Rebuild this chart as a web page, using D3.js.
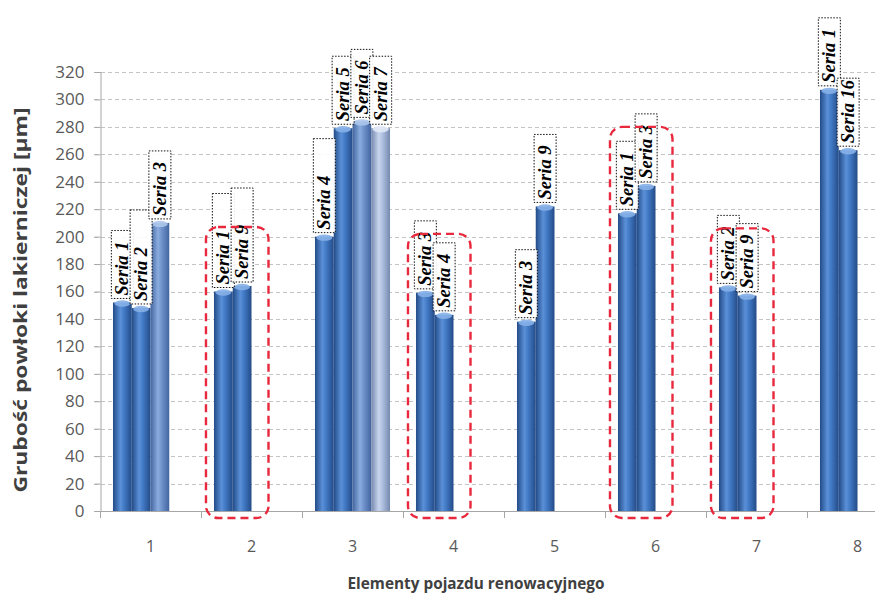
<!DOCTYPE html>
<html>
<head>
<meta charset="utf-8">
<script src="https://cdn.jsdelivr.net/npm/d3@7/dist/d3.min.js"></script>
<style>
  html, body { margin: 0; padding: 0; background: #fff; }
  svg { display: block; }
</style>
</head>
<body>
<svg id="chart" width="875" height="599"></svg>
<script>
// ---- data ----
const categories = ["1", "2", "3", "4", "5", "6", "7", "8"];
const groupValues = [
  [152, 148, 210],
  [160, 164],
  [200, 279, 284, 279],
  [159, 143],
  [138, 222],
  [217, 237],
  [163, 157],
  [307, 263]
];
const groupLabels = [
  ["Seria 1", "Seria 2", "Seria 3"],
  ["Seria 1", "Seria 9"],
  ["Seria 4", "Seria 5", "Seria 6", "Seria 7"],
  ["Seria 3", "Seria 4"],
  ["Seria 3", "Seria 9"],
  ["Seria 1", "Seria 3"],
  ["Seria 2", "Seria 9"],
  ["Seria 1", "Seria 16"]
];
const highlighted = ["2", "4", "6", "7"];
const yTickValues = [0, 20, 40, 60, 80, 100, 120, 140, 160, 180, 200, 220, 240, 260, 280, 300, 320];
const yTitle = "Grubość powłoki lakierniczej [µm]";
const xTitle = "Elementy pojazdu renowacyjnego";

// ---- layout ----
const W = 875, H = 599;
const svg = d3.select("#chart");
const x = d3.scaleBand().domain(categories).range([100, 908]).paddingInner(0.257).paddingOuter(0.1285);
const slot = d3.scaleBand().domain([0, 1, 2, 3]).range([0, x.bandwidth()]).padding(0);
const y = d3.scaleLinear().domain([0, 320]).range([511, 72]);

const bars = [];
groupValues.forEach((vals, ci) => {
  vals.forEach((v, si) => bars.push({ cat: categories[ci], slot: si, value: v, label: groupLabels[ci][si] }));
});

// gradients per slot
const slotColors = [
  { dark: "#234b87", light: "#5a90d8", mid: "#4077c2", cap: "#86b0e8" },
  { dark: "#234b87", light: "#5a90d8", mid: "#4077c2", cap: "#86b0e8" },
  { dark: "#42659f", light: "#8aacdf", mid: "#6d90ca", cap: "#adc6eb" },
  { dark: "#7588ae", light: "#c8d5ee", mid: "#abbddd", cap: "#e1e9f6" }
];
const defs = svg.append("defs");
slotColors.forEach((c, i) => {
  const g = defs.append("linearGradient").attr("id", "barGrad" + i)
    .attr("x1", "0%").attr("x2", "100%").attr("y1", "0%").attr("y2", "0%");
  g.append("stop").attr("offset", "0%").attr("stop-color", c.dark);
  g.append("stop").attr("offset", "40%").attr("stop-color", c.light);
  g.append("stop").attr("offset", "62%").attr("stop-color", c.mid);
  g.append("stop").attr("offset", "100%").attr("stop-color", c.dark);
});

// grid lines
svg.append("g").selectAll("line").data(yTickValues).join("line")
  .attr("x1", 94).attr("x2", W)
  .attr("y1", d => Math.round(y(d)) + 0.5).attr("y2", d => Math.round(y(d)) + 0.5)
  .attr("stroke", "#c4c4c4").attr("stroke-width", 1)
  .attr("stroke-dasharray", "4,3");

// y axis
const yAxis = svg.append("g").attr("transform", "translate(100.5,0)")
  .call(d3.axisLeft(y).tickValues(yTickValues).tickSize(6).tickPadding(8).tickFormat(d => d));
yAxis.select(".domain").attr("stroke", "#a6a6a6");
yAxis.selectAll(".tick line").attr("stroke", "#a6a6a6");
yAxis.selectAll(".tick text").attr("font-family", "'Open Sans', sans-serif")
  .attr("font-size", 17).attr("fill", "#595959").attr("dx", "-2");

// x axis
const xAxis = svg.append("g").attr("transform", "translate(0,511.5)")
  .call(d3.axisBottom(x).tickSize(0).tickPadding(29));
xAxis.select(".domain").remove();
xAxis.selectAll(".tick text").attr("font-family", "'Open Sans', sans-serif")
  .attr("font-size", 16).attr("fill", "#595959");
svg.append("line").attr("x1", 100).attr("x2", W).attr("y1", 511.5).attr("y2", 511.5)
  .attr("stroke", "#a6a6a6");
const boundaries = categories.map(c => x(c) - x.step() * x.paddingInner() / 2);
svg.append("g").selectAll("line").data(boundaries).join("line")
  .attr("x1", d => Math.round(d) + 0.5).attr("x2", d => Math.round(d) + 0.5)
  .attr("y1", 511).attr("y2", 518).attr("stroke", "#a6a6a6");

// bars
const barG = svg.append("g");
const bw = slot.bandwidth();
barG.selectAll("rect").data(bars).join("rect")
  .attr("x", d => x(d.cat) + slot(d.slot))
  .attr("y", d => y(d.value))
  .attr("width", bw)
  .attr("height", d => y(0) - y(d.value))
  .attr("fill", d => `url(#barGrad${d.slot})`);
barG.selectAll("ellipse").data(bars).join("ellipse")
  .attr("cx", d => x(d.cat) + slot(d.slot) + bw / 2)
  .attr("cy", d => y(d.value) + 1)
  .attr("rx", bw / 2 - 1.5)
  .attr("ry", 3.2)
  .attr("fill", d => slotColors[d.slot].cap)
  .attr("opacity", 0.9);

// labels
const tallBoxes = new Set(["1-1", "2-0", "2-1", "3-0"]);
const boxW = 22;
const lblG = svg.append("g");
bars.forEach(d => {
  const cx = x(d.cat) + slot(d.slot) + bw / 2;
  const bottom = y(d.value) - 4;
  const h = tallBoxes.has(d.cat + "-" + d.slot) ? 94 : 68;
  lblG.append("rect")
    .attr("x", cx - boxW / 2).attr("y", bottom - h)
    .attr("width", boxW).attr("height", h)
    .attr("fill", "#fff").attr("fill-opacity", 0.9)
    .attr("stroke", "#111").attr("stroke-width", 1)
    .attr("stroke-dasharray", "1.5,1.5");
  lblG.append("text")
    .attr("transform", `translate(${cx + 6},${bottom - 3}) rotate(-90)`)
    .attr("font-family", "'Liberation Serif', serif")
    .attr("font-style", "italic").attr("font-weight", "bold")
    .attr("font-size", 18.5).attr("fill", "#000")
    .text(d.label);
});

// highlight boxes
highlighted.forEach(c => {
  const ci = categories.indexOf(c);
  const maxV = d3.max(groupValues[ci]);
  const left = x(c) - 8;
  const right = x(c) + slot(1) + bw + 17;
  const top = y(maxV + 43);
  svg.append("rect")
    .attr("x", left).attr("y", top)
    .attr("width", right - left).attr("height", 518 - top)
    .attr("rx", 12).attr("ry", 12)
    .attr("fill", "none").attr("stroke", "#e8283c")
    .attr("stroke-width", 2.4).attr("stroke-dasharray", "8,5");
});

// titles
svg.append("text")
  .attr("transform", "translate(27,300) rotate(-90)")
  .attr("text-anchor", "middle")
  .attr("font-family", "'Open Sans', sans-serif").attr("font-weight", "bold")
  .attr("font-size", 18).attr("fill", "#404040")
  .attr("textLength", 385).attr("lengthAdjust", "spacingAndGlyphs")
  .text(yTitle);
svg.append("text")
  .attr("x", 476).attr("y", 589)
  .attr("text-anchor", "middle")
  .attr("font-family", "'Open Sans', sans-serif").attr("font-weight", "bold")
  .attr("font-size", 16.5).attr("fill", "#404040")
  .attr("textLength", 257).attr("lengthAdjust", "spacingAndGlyphs")
  .text(xTitle);
</script>
</body>
</html>
